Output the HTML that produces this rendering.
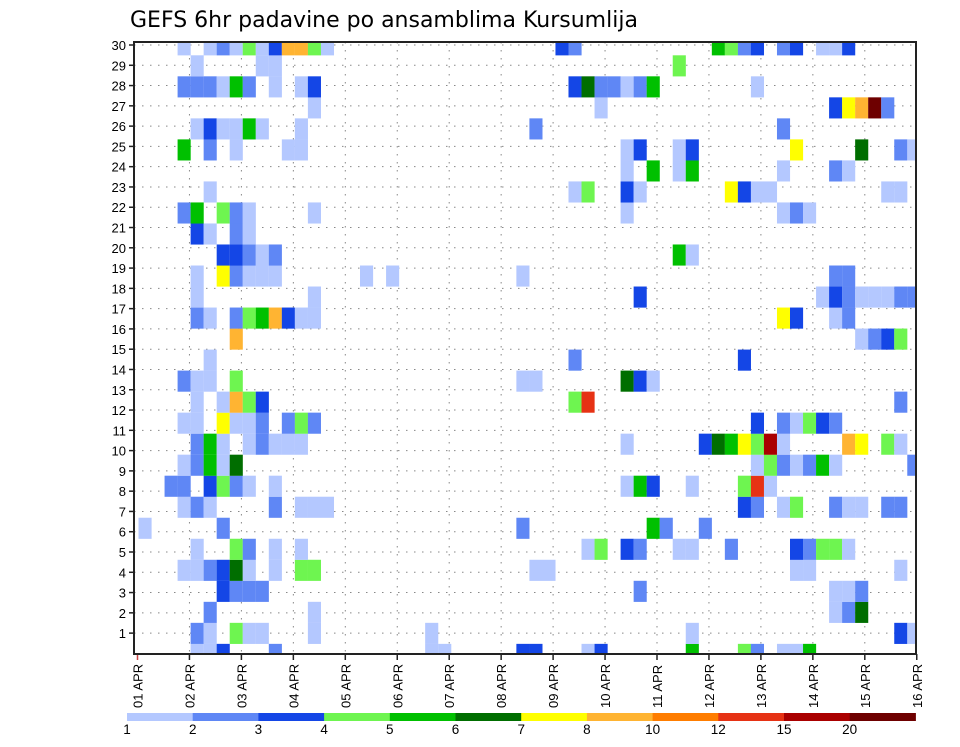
<!DOCTYPE html>
<html><head><meta charset="utf-8"><style>
body{margin:0;background:#fff;width:960px;height:742px;overflow:hidden}
svg text{font-family:"Liberation Sans",sans-serif}
</style></head><body>
<svg id="chart" width="960" height="742" viewBox="0 0 960 742" xmlns="http://www.w3.org/2000/svg">
<text x="130" y="27" font-size="22" fill="#000" style="font-family:'DejaVu Sans',sans-serif">GEFS 6hr padavine po ansamblima Kursumlija</text>
<defs><clipPath id="plotclip"><rect x="134" y="42" width="782" height="612"/></clipPath></defs>
<g id="grid"></g>
<g id="cells" clip-path="url(#plotclip)"></g>
<g id="axes"></g>
<rect x="134" y="42" width="782" height="612" fill="none" stroke="#222" stroke-width="2"/>
<g id="cbar"></g>
</svg>
<script>
const levelColors=["#b4c8ff","#5f87f5","#1446e6","#6ef550","#00c000","#006e00","#ffff00","#ffb432","#ff7d00","#e63214","#aa0000","#6e0000"];
const colorbarLabels=["1","2","3","4","5","6","7","8","10","12","15","20"];
const yTickLabels=[1,2,3,4,5,6,7,8,9,10,11,12,13,14,15,16,17,18,19,20,21,22,23,24,25,26,27,28,29,30];
const dayLabels=["01 APR","02 APR","03 APR","04 APR","05 APR","06 APR","07 APR","08 APR","09 APR","10 APR","11 APR","12 APR","13 APR","14 APR","15 APR","16 APR"];
// cellData[m] = [[timeStep, levelClass], ...] ; m = member row (30 top .. 1 bottom)
const cellData={
30:[[3,1],[5,1],[6,2],[7,1],[8,4],[9,1],[10,3],[11,8],[12,8],[13,4],[14,1],[32,3],[33,2],[44,5],[45,4],[46,2],[47,3],[49,2],[50,3],[52,1],[53,1],[54,3]],
29:[[4,1],[9,1],[10,1],[41,4]],
28:[[3,2],[4,2],[5,2],[6,1],[7,5],[8,2],[10,1],[12,1],[13,3],[33,3],[34,6],[35,2],[36,2],[37,1],[38,2],[39,5],[47,1]],
27:[[13,1],[35,1],[53,3],[54,7],[55,8],[56,12],[57,2]],
26:[[4,1],[5,3],[6,1],[7,1],[8,5],[9,1],[12,1],[30,2],[49,2]],
25:[[3,5],[5,2],[7,1],[11,1],[12,1],[37,1],[38,3],[41,1],[42,3],[50,7],[55,6],[58,2],[59,1]],
24:[[37,1],[39,5],[41,1],[42,5],[49,1],[53,2],[54,1]],
23:[[5,1],[33,1],[34,4],[37,3],[38,1],[45,7],[46,3],[47,1],[48,1],[57,1],[58,1]],
22:[[3,2],[4,5],[6,4],[7,2],[8,1],[13,1],[37,1],[49,1],[50,2],[51,1]],
21:[[4,3],[5,1],[7,2],[8,1]],
20:[[6,3],[7,3],[8,2],[9,1],[10,2],[41,5],[42,1]],
19:[[4,1],[6,7],[7,2],[8,1],[9,1],[10,1],[17,1],[19,1],[29,1],[53,2],[54,2]],
18:[[4,1],[13,1],[38,3],[52,1],[53,3],[54,2],[55,1],[56,1],[57,1],[58,2],[59,2]],
17:[[4,2],[5,1],[7,2],[8,4],[9,5],[10,8],[11,3],[12,1],[13,1],[49,7],[50,3],[53,1],[54,2]],
16:[[7,8],[55,1],[56,2],[57,3],[58,4]],
15:[[5,1],[33,2],[46,3]],
14:[[3,2],[4,1],[5,1],[7,4],[29,1],[30,1],[37,6],[38,3],[39,1]],
13:[[4,1],[6,1],[7,8],[8,4],[9,3],[33,4],[34,10],[58,2]],
12:[[3,1],[4,1],[6,7],[7,1],[8,1],[9,2],[11,2],[12,4],[13,2],[47,3],[49,2],[50,1],[51,4],[52,3],[53,2]],
11:[[4,2],[5,5],[6,1],[8,1],[9,2],[10,1],[11,1],[12,1],[37,1],[43,3],[44,6],[45,5],[46,7],[47,4],[48,11],[49,1],[54,8],[55,7],[57,4],[58,1]],
10:[[3,1],[4,2],[5,5],[6,1],[7,6],[47,1],[48,4],[49,2],[50,1],[51,2],[52,5],[53,1],[59,2]],
9:[[2,2],[3,2],[5,3],[6,4],[7,2],[8,1],[10,1],[37,1],[38,5],[39,3],[42,1],[46,4],[47,10],[48,1]],
8:[[3,1],[4,2],[5,1],[10,2],[12,1],[13,1],[14,1],[46,3],[47,2],[49,1],[50,4],[53,2],[54,1],[55,1],[57,2],[58,2]],
7:[[0,1],[6,2],[29,2],[39,5],[40,2],[43,2]],
6:[[4,1],[7,4],[8,2],[10,1],[12,1],[34,1],[35,4],[37,3],[38,2],[41,1],[42,1],[45,2],[50,3],[51,2],[52,4],[53,4],[54,1]],
5:[[3,1],[4,1],[5,2],[6,3],[7,6],[8,1],[10,1],[12,4],[13,4],[30,1],[31,1],[50,1],[51,1],[58,1]],
4:[[6,3],[7,2],[8,2],[9,2],[38,2],[53,1],[54,1],[55,2]],
3:[[5,2],[13,1],[53,1],[54,2],[55,6]],
2:[[4,2],[5,1],[7,4],[8,1],[9,1],[13,1],[22,1],[42,1],[58,3],[59,1]],
1:[[4,1],[5,1],[6,3],[10,2],[22,1],[23,1],[29,3],[30,3],[34,1],[35,3],[42,5],[46,4],[47,2],[49,1],[50,1],[51,5]]
};
const NS="http://www.w3.org/2000/svg";
function mk(tag,attrs,parent){const e=document.createElementNS(NS,tag);for(const k in attrs)e.setAttribute(k,attrs[k]);parent.appendChild(e);return e;}
const X0=134,X1=916,Y0=42,Y1=654;
function dayX(d){return 137.5+51.95*d;}
function stepX(c){return 138.5+13.03*c;}
function rowTop(m){return 55.3+21.02*(29-m);}
function labelY(l){return 45+(30-l)*20.28;}
const grid=document.getElementById('grid'),cells=document.getElementById('cells'),axes=document.getElementById('axes'),cbar=document.getElementById('cbar');
yTickLabels.forEach(l=>{const y=labelY(l);
 const g=mk('line',{x1:X0,x2:X1,y1:y,y2:y,stroke:'#888','stroke-width':1,'stroke-dasharray':'1.5 6.5'},grid);
 
 
 const t=mk('line',{x1:X0-5,x2:X0,y1:y,y2:y,stroke:'#222','stroke-width':1.5},axes);
 
 
 const tx=mk('text',{x:126,y:y+5,'font-size':13,'text-anchor':'end',fill:'#000'},axes);tx.textContent=l;
 
 
});
dayLabels.forEach((s,d)=>{const x=dayX(d);
 if(d>0&&d<15){const g=mk('line',{x1:x,x2:x,y1:Y0,y2:Y1,stroke:'#888','stroke-width':1,'stroke-dasharray':'1.5 6.5'},grid);
 
 }
 const t=mk('line',{x1:x,x2:x,y1:Y1,y2:Y1+6,stroke:d==0?'#c44':'#222','stroke-width':1.5},axes);
 
 
 const tx=mk('text',{x:0,y:0,'font-size':13,fill:'#000',transform:`translate(${x+5},708) rotate(-90)`},axes);tx.textContent=s;
 
 
});
Object.keys(cellData).forEach(mk_=>{const m=+mk_;cellData[m].forEach(([c,lv])=>{
 const r=mk('rect',{x:stepX(c),y:rowTop(m),width:13.1,height:21.1,fill:levelColors[lv-1]},cells);
 
 
});});
const cbW=65.7;
levelColors.forEach((col,i)=>{const r=mk('rect',{x:127+cbW*i,y:713,width:cbW+0.5,height:8,fill:col},cbar);
 
 
 const t=mk('text',{x:127+cbW*i,y:734,'font-size':13.5,'text-anchor':'middle',fill:'#000'},cbar);t.textContent=colorbarLabels[i];
 
 
});
</script>
</body></html>
